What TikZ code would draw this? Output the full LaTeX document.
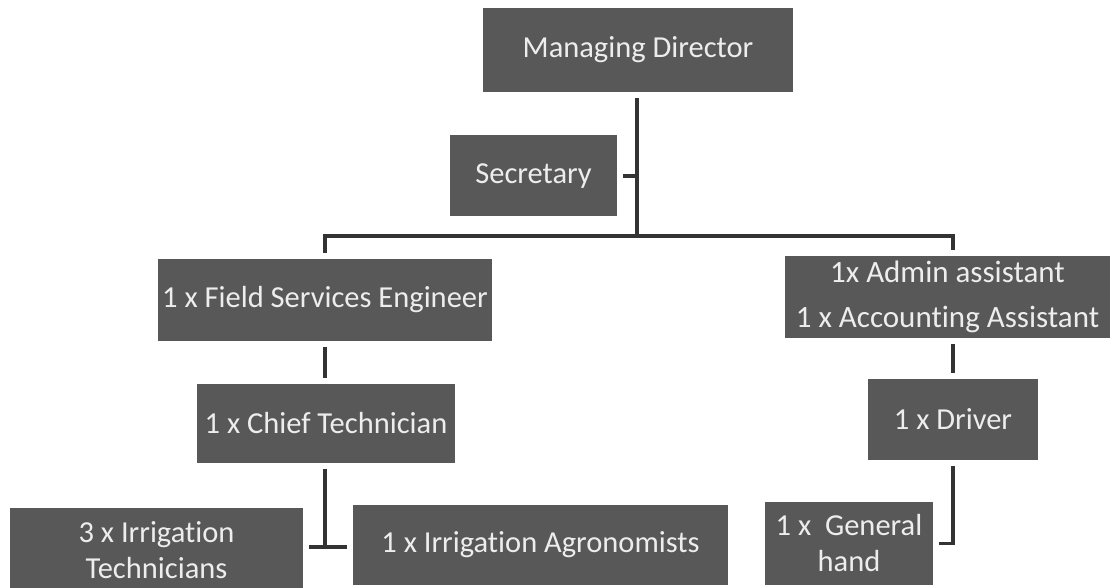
\documentclass[tikz,border=0pt]{standalone}
\usepackage{fontspec}
\setmainfont{Carlito}[Ligatures={NoCommon,NoContextual,NoRare}]
\newcommand{\nl}{\kern0pt }
\definecolor{boxfill}{HTML}{585858}
\definecolor{boxtext}{HTML}{EDEDED}
\definecolor{linecol}{HTML}{333333}
\tikzset{
  orgbox/.style={fill=boxfill, text=boxtext, inner sep=0pt, outer sep=6pt,
    align=center, font=\fontsize{30.5}{36}\selectfont},
  conn/.style={draw=linecol, line width=3.5pt}
}
\begin{document}
\begin{tikzpicture}[x=1pt,y=-1pt]
\useasboundingbox (0,0) rectangle (1119,588);
\node[orgbox, minimum width=310pt, minimum height=84pt] (md) at (638,50) {Managing Director};
\node[orgbox, minimum width=167pt, minimum height=81pt] (sec) at (533.5,176) {Secretary};
\node[orgbox, minimum width=334pt, minimum height=82pt] (fse) at (325,299.5) {1 x Field Services Engineer};
\node[orgbox, minimum width=325pt, minimum height=82pt, font=\fontsize{31}{45}\selectfont] (admin) at (947.5,297) {1x Admin assistant\\1 x Account\nl ing Assistant};
\node[orgbox, minimum width=258pt, minimum height=79pt] (chief) at (326,423) {1 x Chief Technician};
\node[orgbox, minimum width=293pt, minimum height=84pt] (tech) at (156.5,550) {3 x Irrigat\nl ion\\Technicians};
\node[orgbox, minimum width=375pt, minimum height=80pt] (agro) at (540.5,545) {1 x Irrigat\nl ion Agronomists};
\node[orgbox, minimum width=170pt, minimum height=81pt] (driver) at (953,419) {1 x Driver};
\node[orgbox, minimum width=168pt, minimum height=83pt] (gh) at (849,543.5) {1 x\ \ General\\hand};
\coordinate (bus) at (637,236);
\coordinate (tj) at (325,547);
\draw[conn] (md.south -| bus) -- (bus);
\draw[conn] (fse.north) |- (bus) -| (admin.north -| driver.north);
\draw[conn] (sec.east) -- (sec.east -| bus);
\draw[conn] (fse.south) -- (fse.south |- chief.north);
\draw[conn] (chief.south -| tj) -- (tj);
\draw[conn] (tech.east |- tj) -- (agro.west |- tj);
\draw[conn] (admin.south -| driver.north) -- (driver.north);
\draw[conn] (driver.south) |- (gh.east);
\end{tikzpicture}
\end{document}
